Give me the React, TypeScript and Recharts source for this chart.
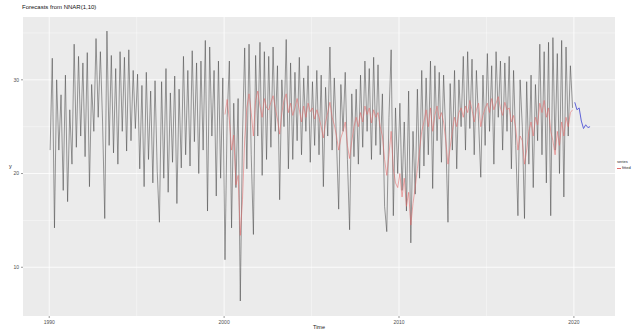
import { LineChart, Line, XAxis, YAxis, CartesianGrid, ReferenceLine } from 'recharts';

// observed series, 8 obs per year starting 1990.05
const observed = [
    22.5, 32.3, 14.2, 30.0, 22.5, 28.4, 18.2, 30.5, 17.0, 26.8,
    21.0, 33.8, 22.8, 32.5, 24.0, 31.8, 21.8, 32.9, 18.6, 29.5,
    24.5, 34.4, 26.0, 33.0, 25.5, 15.2, 35.2, 23.0, 32.6, 22.2,
    31.2, 21.0, 33.0, 24.5, 32.4, 22.4, 33.2, 23.5, 31.0, 24.8,
    30.6, 20.5, 29.4, 18.6, 30.8, 21.5, 28.8, 19.0, 29.9, 20.2,
    14.8, 29.8, 19.5, 31.2, 18.0, 28.6, 21.2, 30.4, 16.8, 29.0,
    20.6, 32.5, 22.0, 31.0, 20.8, 33.1, 23.4, 31.8, 20.0, 32.0,
    22.5, 34.2, 16.0, 33.5, 24.0, 31.0, 17.6, 32.0, 19.5, 30.2,
    10.8, 26.0, 32.0, 14.2, 27.5, 18.5, 28.0, 6.4, 24.0, 33.4,
    20.5, 33.8, 22.0, 13.5, 32.6, 24.0, 34.0, 19.8, 33.0, 21.5,
    32.5, 22.8, 33.5, 24.5, 31.5, 17.2, 30.0, 25.0, 34.3, 20.5,
    31.8, 21.5, 30.8, 23.5, 32.4, 22.0, 30.2, 24.5, 31.5, 21.2,
    29.8, 23.0, 31.0, 22.0, 30.5, 18.6, 29.2, 24.0, 33.5, 22.5,
    30.2, 23.5, 16.2, 29.5, 24.5, 30.8, 21.5, 14.0, 28.5, 21.8,
    29.0, 21.0, 30.5, 22.8, 32.0, 24.5, 31.2, 21.5, 32.4, 23.0,
    31.6, 22.0, 28.5, 16.5, 13.8, 26.0, 33.2, 15.5, 27.0, 20.0,
    27.5, 18.2, 25.5, 16.0, 28.8, 12.6, 24.5, 17.8, 29.0, 19.5,
    31.0, 20.8, 30.2, 22.0, 32.0, 18.4, 31.5, 23.5, 30.8, 21.2,
    30.5, 24.0, 14.8, 29.6, 22.5, 31.0, 20.5, 30.0, 25.0, 32.5,
    22.5, 33.0, 24.8, 32.2, 22.0, 31.0, 25.5, 19.6, 30.5, 23.0,
    32.8, 24.5, 31.5, 21.0, 33.0, 26.0, 32.0, 22.5, 31.8, 24.5,
    32.5, 20.5, 31.0, 23.0, 15.5, 30.0, 25.0, 15.2, 29.8, 21.0,
    30.5, 18.5, 29.5, 23.5, 33.8, 22.0, 33.0, 19.0, 34.0, 15.5,
    34.5, 22.5, 32.8, 20.0, 34.2, 17.5, 33.5, 24.0, 31.5, 27.0,
];

// fitted values, start at observation 80
const fittedStart = 80;
const fitted = [
    26.3, 27.9, 25.7, 22.5, 24.1, 18.8, 19.8, 13.4, 17.2, 23.6,
    27.0, 28.5, 26.5, 24.0, 27.8, 28.8, 27.2, 26.0, 28.0, 27.0,
    26.8, 27.6, 28.3, 27.0, 25.8, 24.2, 26.5, 27.8, 28.5, 26.5,
    27.5, 26.2, 27.0, 28.0, 26.8, 25.5, 27.2, 26.0, 27.5, 26.6,
    27.0, 25.8, 26.8, 26.0, 25.0, 23.8, 25.5, 26.5, 27.6, 26.0,
    25.2, 24.0, 22.5, 23.8, 24.5, 25.5, 23.0, 21.6, 23.5, 25.0,
    26.0, 25.0, 26.5, 25.5, 27.2, 26.3, 27.0, 25.4, 26.8, 26.0,
    26.5, 25.0, 24.0, 21.5, 19.8, 22.0, 24.5, 20.5, 19.0, 18.5,
    20.0, 17.5, 19.5, 16.5, 18.0, 14.5, 16.8, 18.5, 20.5, 22.5,
    24.5, 25.5, 26.8, 25.0, 27.0, 24.5, 26.2, 27.2, 25.8, 26.5,
    25.5, 23.5, 21.0, 22.8, 24.5, 26.0, 25.0, 26.5, 27.0, 26.0,
    27.2, 26.5, 27.8, 26.8, 25.5, 26.8, 27.5, 25.0, 26.2, 27.0,
    27.5, 26.5, 28.0, 26.8, 27.5, 28.2, 27.0, 26.2, 27.6, 26.8,
    27.0, 25.5, 26.2, 24.8, 22.5, 24.0, 23.5, 21.0, 22.5, 24.5,
    25.5, 24.0, 26.0, 25.2, 27.5, 26.5, 27.8, 26.0, 27.0, 24.5,
    23.5, 22.0, 24.5, 23.0, 25.5, 24.0, 26.0, 25.0, 26.5, 26.8,
];

// point forecasts after the end of the series
const forecast = [27.6, 26.8, 27.0, 25.6, 24.8, 25.2, 24.9, 25.0];

const startYear = 1990.05;
const freq = 8;
const xTicks = [1990, 2000, 2010, 2020];
const xMinor = [1995, 2005, 2015];
const yTicks = [10, 20, 30];
const yMinor = [15, 25, 35];

const chartData = Array.from({ length: observed.length + forecast.length }, (_, i) => ({
    t: startYear + i / freq,
    actual: i < observed.length ? observed[i] : null,
    fitted: i >= fittedStart && i < observed.length ? fitted[i - fittedStart] : null,
    forecast: i >= observed.length ? forecast[i - observed.length] : null,
}));

const font = '"Liberation Sans", Arial, sans-serif';

export default function App() {
    return (
        <div style={{ position: 'absolute', left: 0, top: 0, width: 634, height: 329, background: '#fff', fontFamily: font, overflow: 'hidden' }}>
            <div style={{ position: 'absolute', left: 22, top: 4, fontSize: 6, color: '#111' }}>
                Forecasts from NNAR(1,10)
            </div>
            <LineChart width={634} height={329} data={chartData} margin={{ top: 17, right: 19, bottom: 0, left: 0 }}>
                <CartesianGrid fill="#EBEBEB" stroke="#fff" strokeWidth={0.8}
                    horizontalValues={yTicks} verticalValues={xTicks} />
                {xMinor.map((v) => <ReferenceLine key={'x' + v} x={v} stroke="#fff" strokeWidth={0.4} />)}
                {yMinor.map((v) => <ReferenceLine key={'y' + v} y={v} stroke="#fff" strokeWidth={0.4} />)}
                <XAxis dataKey="t" type="number" domain={[1988.5, 2022.35]} ticks={xTicks} height={13}
                    axisLine={false} tickSize={2} tickLine={{ stroke: '#333', strokeWidth: 0.5 }}
                    tick={{ fontSize: 5, fill: '#4D4D4D' }} allowDataOverflow
                    label={{ value: 'Time', position: 'insideBottom', offset: 0, fontSize: 5.5, fill: '#222' }} />
                <YAxis type="number" domain={[4.8, 36.7]} ticks={yTicks} width={23}
                    axisLine={false} tickSize={2} tickLine={{ stroke: '#333', strokeWidth: 0.5 }}
                    tick={{ fontSize: 5, fill: '#4D4D4D' }} allowDataOverflow
                    label={{ value: 'y', position: 'insideLeft', offset: 9, fontSize: 5.5, fill: '#222' }} />
                <Line dataKey="actual" stroke="#4a4a4a" strokeWidth={0.55} dot={false} isAnimationActive={false} />
                <Line dataKey="fitted" stroke="#E46A6A" strokeOpacity={0.7} strokeWidth={0.8} dot={false} isAnimationActive={false} />
                <Line dataKey="forecast" stroke="#5E63D8" strokeWidth={1} dot={false} isAnimationActive={false} />
            </LineChart>
            <div style={{ position: 'absolute', left: 617, top: 159, fontSize: 4, color: '#222', lineHeight: '6px' }}>
                <div>series</div>
                <div style={{ display: 'flex', alignItems: 'center', gap: 1 }}>
                    <span style={{ display: 'inline-block', width: 4, height: 1, background: '#E46A6A' }} />
                    <span>fitted</span>
                </div>
            </div>
        </div>
    );
}
